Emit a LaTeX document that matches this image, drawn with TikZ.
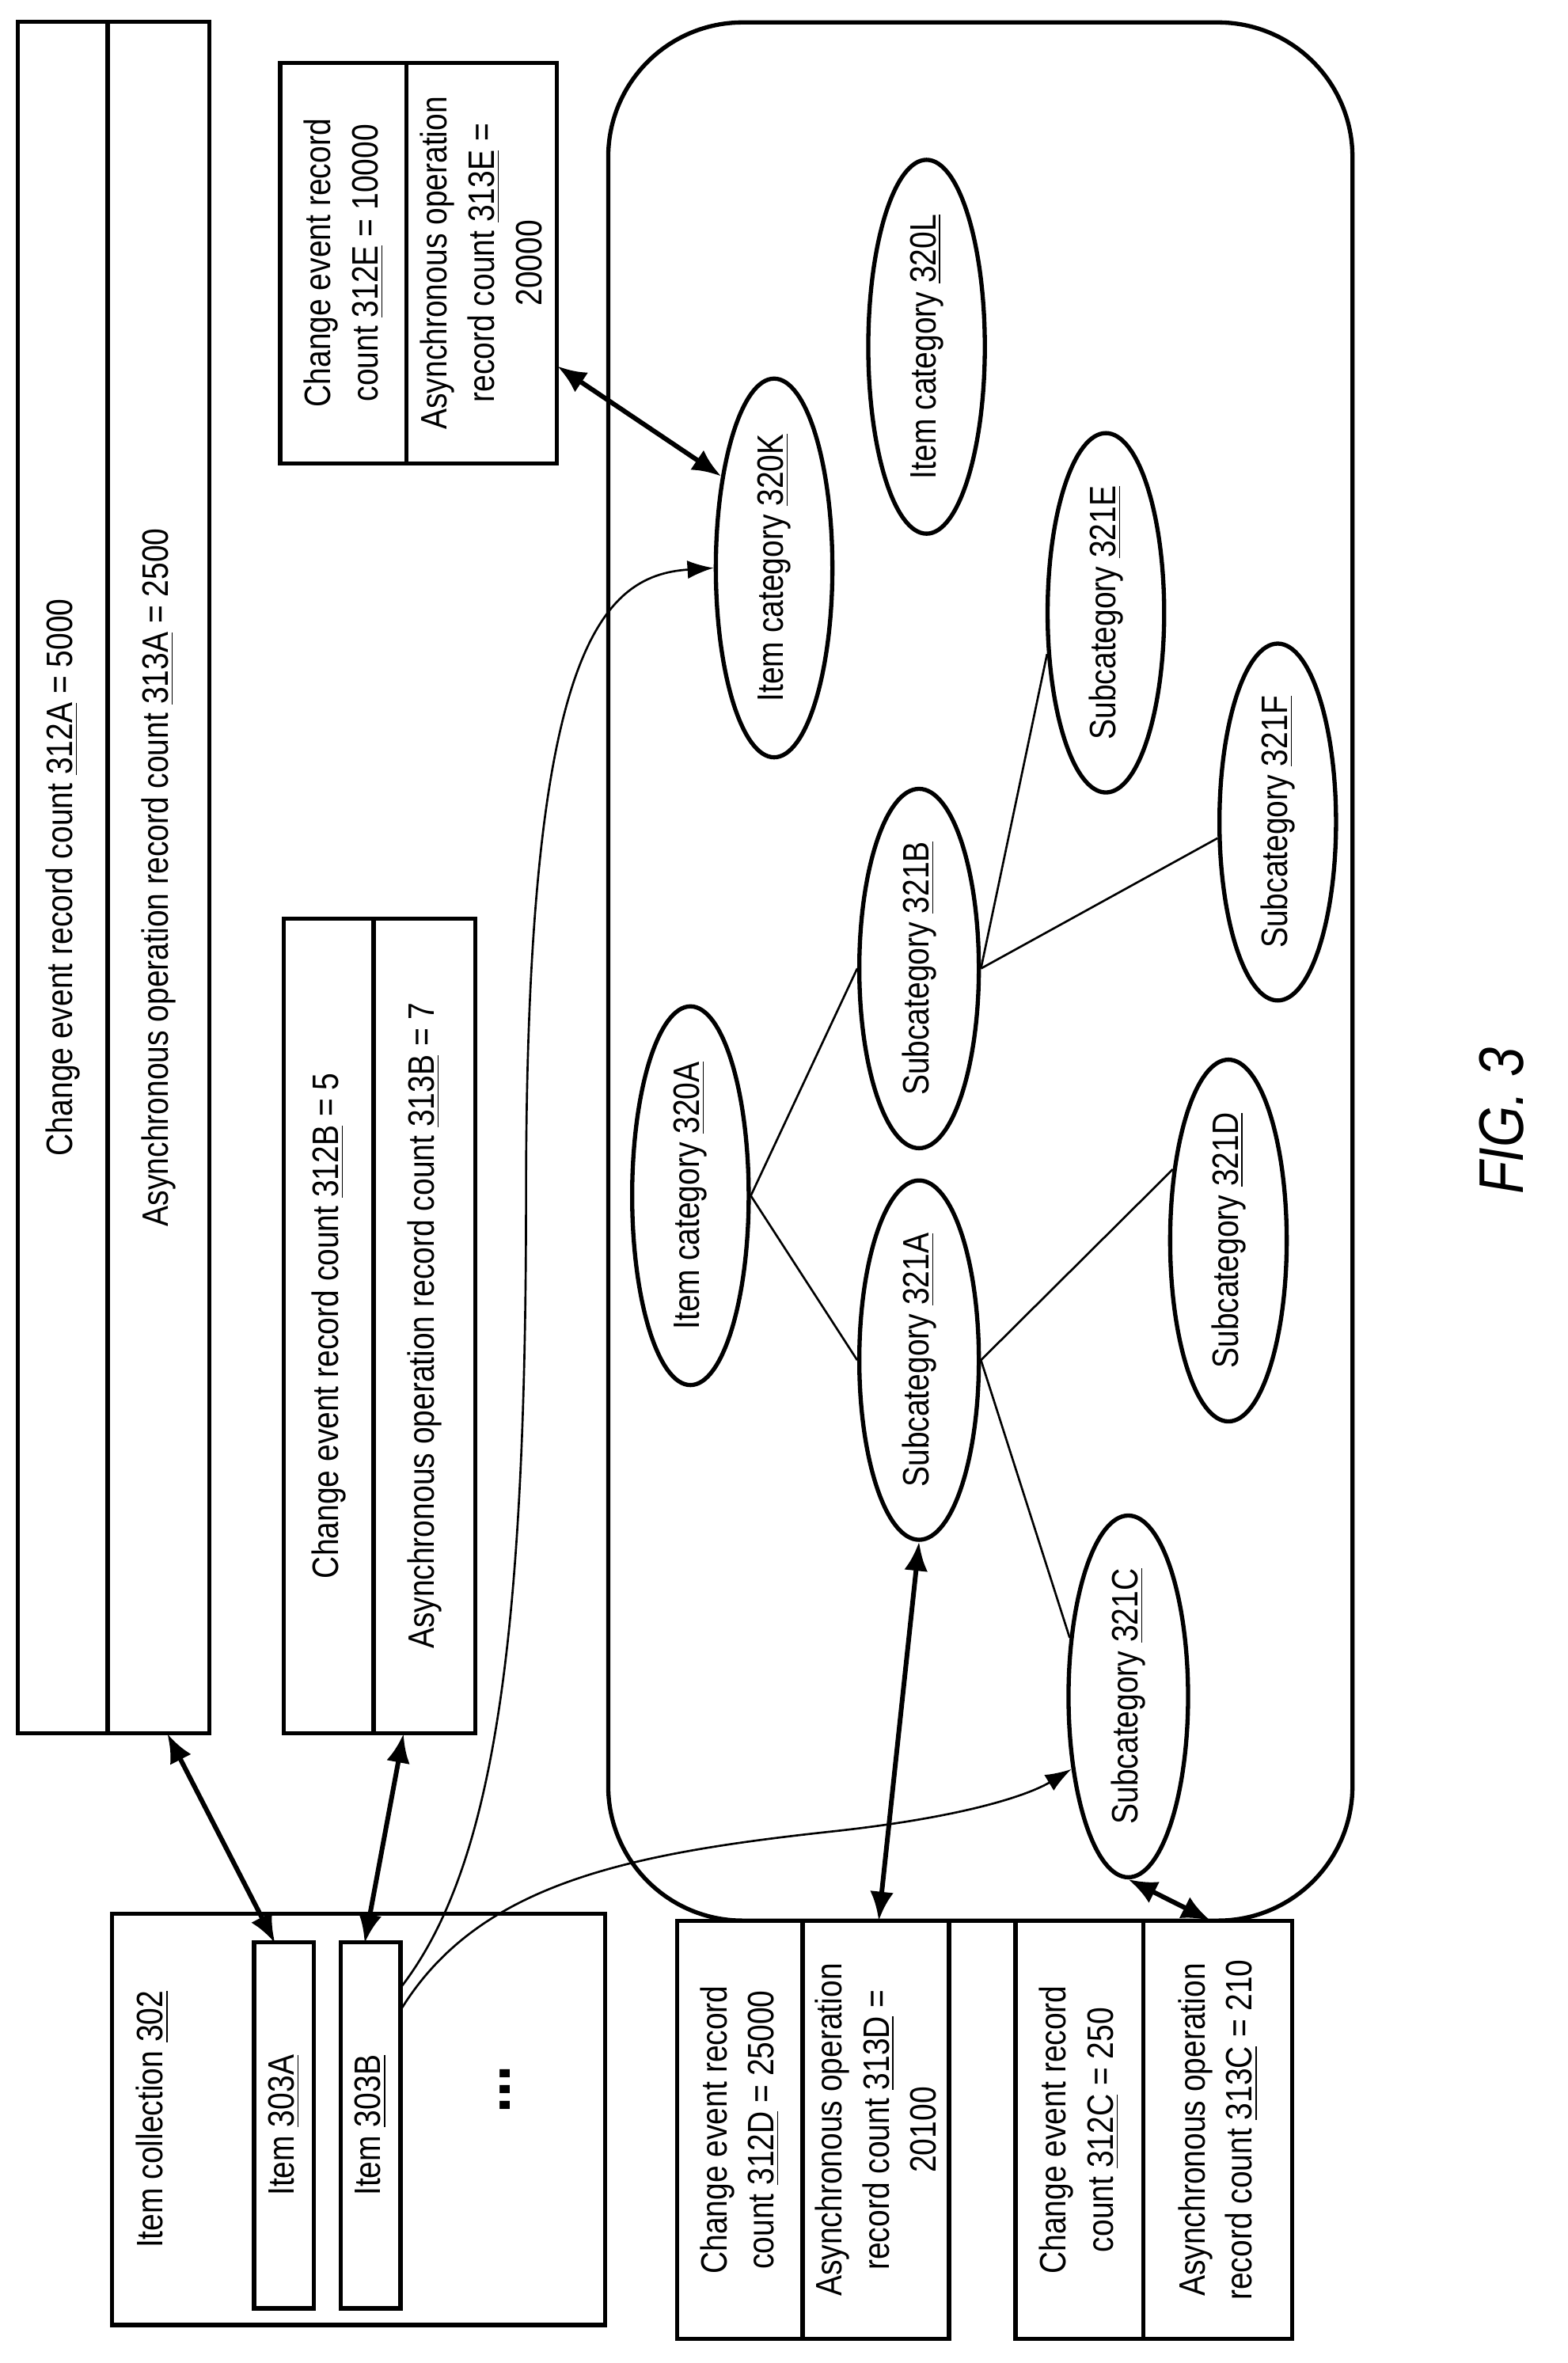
\documentclass[tikz,border=0pt]{standalone}
\usepackage{fontspec}
\setmainfont{Liberation Sans}[FakeStretch=0.84]
\usetikzlibrary{shapes.geometric,arrows.meta}
\newcommand{\rt}[1]{\rotatebox{90}{#1}}
\newcommand{\rtp}[2]{\rotatebox{90}{\parbox{#1}{\centering #2}}}
\begin{document}
\begin{tikzpicture}[x=0.02cm,y=-0.02cm,
  box/.style={draw,line width=1.6pt,inner sep=0},
  lbl/.style={align=center,font=\fontsize{14}{18}\selectfont,inner sep=0},
  ell/.style={draw,ellipse,line width=1.6pt,inner sep=0,font=\fontsize{14}{18}\selectfont},
  dbl/.style={{Latex[length=11pt,width=9pt]}-{Latex[length=11pt,width=9pt]},line width=1.8pt},
  thin/.style={line width=0.8pt},
  curv/.style={-{Latex[length=10pt,width=7pt]},line width=0.8pt}]
\useasboundingbox (0,0) rectangle (1049,1581);
% rounded container
\node[draw,line width=1.6pt,rounded corners=90*0.02cm,minimum width=498*0.02cm,minimum height=1270*0.02cm] (cont) at (656,650) {};
% boxes
\node[box,minimum width=128*0.02cm,minimum height=1145*0.02cm] (b312A) at (76,587) {};
\draw[line width=1.6pt] (72,15) -- (72,1160);
\node[lbl] (t312A) at (42,587) {\rt{Change event record count \underline{312A} = 5000}};
\node[lbl] (t313A) at (106,587) {\rt{Asynchronous operation record count \underline{313A} = 2500}};
\node[box,minimum width=128*0.02cm,minimum height=545*0.02cm] (b312B) at (254,887) {};
\draw[line width=1.6pt] (250,615) -- (250,1160);
\node[lbl] (t312B) at (220,887) {\rt{Change event record count \underline{312B} = 5}};
\node[lbl] (t313B) at (284,887) {\rt{Asynchronous operation record count \underline{313B} = 7}};
\node[box,minimum width=185*0.02cm,minimum height=268*0.02cm] (b312E) at (280,176) {};
\draw[line width=1.6pt] (272,42) -- (272,310);
\node[lbl] (t312E) at (230,176) {\rtp{4.6cm}{Change event record count \underline{312E} = 10000}};
\node[lbl] (t313E) at (322,176) {\rtp{4.6cm}{Asynchronous operation record count \underline{313E} = 20000}};
\node[box,minimum width=182*0.02cm,minimum height=280*0.02cm] (b312D) at (544,1425) {};
\draw[line width=1.6pt] (537,1285) -- (537,1565);
\node[lbl] (t312D) at (495,1425) {\rtp{4.6cm}{Change event record count \underline{312D} = 25000}};
\node[lbl] (t313D) at (586,1425) {\rtp{4.6cm}{Asynchronous operation record count \underline{313D} = 20100}};
\node[box,minimum width=185*0.02cm,minimum height=280*0.02cm] (b312C) at (772,1425) {};
\draw[line width=1.6pt] (765,1285) -- (765,1565);
\node[lbl] (t312C) at (722,1425) {\rtp{4.6cm}{Change event record count \underline{312C} = 250}};
\node[lbl] (t313C) at (815,1425) {\rtp{4.6cm}{Asynchronous operation record count \underline{313C} = 210}};
% item collection
\node[box,minimum width=330*0.02cm,minimum height=275*0.02cm] (coll) at (240,1418) {};
\node[lbl] (tcoll) at (102,1418) {\rt{Item collection \underline{302}}};
\node[box,minimum width=40*0.02cm,minimum height=245*0.02cm] (i303A) at (190,1422) {};
\node[lbl] (l303A) at (190,1422) {\rt{Item \underline{303A}}};
\node[box,minimum width=40*0.02cm,minimum height=245*0.02cm] (i303B) at (248,1422) {};
\node[lbl] (l303B) at (248,1422) {\rt{Item \underline{303B}}};
\node[font=\fontsize{26}{26}\selectfont\bfseries] (dots) at (338,1398) {\rt{...}};
% ellipses
\node[ell,minimum height=240*0.02cm,minimum width=78*0.02cm] (e320A) at (462,800) {\rt{Item category \underline{320A}}};
\node[ell,minimum height=232*0.02cm,minimum width=78*0.02cm] (e320K) at (518,380) {\rt{Item category \underline{320K}}};
\node[ell,minimum height=232*0.02cm,minimum width=78*0.02cm] (e320L) at (620,232) {\rt{Item category \underline{320L}}};
\node[ell,minimum height=232*0.02cm,minimum width=80*0.02cm] (e321B) at (615,648) {\rt{Subcategory \underline{321B}}};
\node[ell,minimum height=232*0.02cm,minimum width=80*0.02cm] (e321A) at (615,910) {\rt{Subcategory \underline{321A}}};
\node[ell,minimum height=232*0.02cm,minimum width=78*0.02cm] (e321D) at (822,830) {\rt{Subcategory \underline{321D}}};
\node[ell,minimum height=232*0.02cm,minimum width=78*0.02cm] (e321E) at (740,410) {\rt{Subcategory \underline{321E}}};
\node[ell,minimum height=232*0.02cm,minimum width=78*0.02cm] (e321F) at (855,550) {\rt{Subcategory \underline{321F}}};
\node[ell,minimum height=232*0.02cm,minimum width=80*0.02cm] (e321C) at (755,1135) {\rt{Subcategory \underline{321C}}};
% tree lines
\draw[thin] (e320A.east) -- (e321B.west);
\draw[thin] (e320A.east) -- (e321A.west);
\draw[thin] (e321A.east) -- (e321D.128);
\draw[thin] (e321A.east) -- (e321C.135);
\draw[thin] (e321B.east) -- (e321E.215);
\draw[thin] (e321B.east) -- (e321F.195);
% double arrows
\coordinate (p312A) at (112,1160);
\coordinate (p312B) at (270,1160);
\coordinate (p312E) at (373,245);
\coordinate (p312D) at (588,1285);
\coordinate (p312C) at (810,1285);
\coordinate (s303A) at (184,1300);
\coordinate (s303B) at (244,1300);
\draw[dbl] (s303A) -- (p312A);
\draw[dbl] (s303B) -- (p312B);
\draw[dbl] (e320K.120) -- (p312E);
\draw[dbl] (e321A.south) -- (p312D);
\draw[dbl] (e321C.south) -- (p312C);
% curves
\coordinate (c1) at (268,1330);
\coordinate (c2) at (268,1345);
\draw[curv] (c1) .. controls (330,1250) and (352,1100) .. (352,800) .. controls (352,440) and (400,385) .. (e320K.west);
\draw[curv] (c2) .. controls (320,1260) and (420,1240) .. (560,1225) .. controls (650,1215) and (690,1200) .. (e321C.232);
\node[font=\fontsize{24}{24}\selectfont\itshape] (fig) at (1005,750) {\rt{FIG. 3}};
\end{tikzpicture}
\end{document}
